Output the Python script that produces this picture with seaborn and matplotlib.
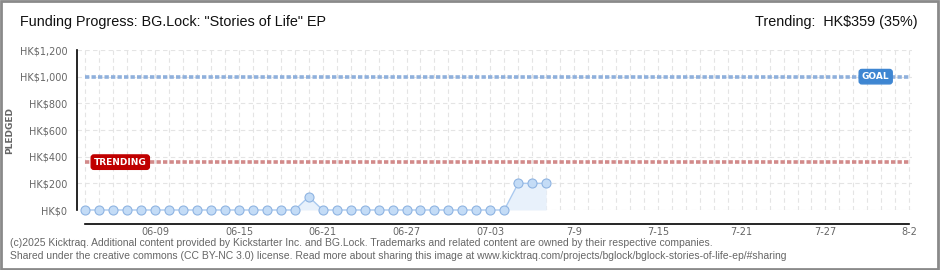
import matplotlib
matplotlib.use("Agg")
import matplotlib.pyplot as plt
import seaborn as sns
import pandas as pd
from matplotlib.patches import Rectangle

# ---------------- data ----------------
start_date = "2025-06-04"
end_date = "2025-08-02"
pledged = [0, 0, 0, 0, 0, 0, 0, 0, 0, 0, 0, 0, 0, 0, 0, 0, 100, 0, 0, 0, 0, 0,
           0, 0, 0, 0, 0, 0, 0, 0, 0, 200, 200, 200]
goal = 1000
trending = 359
trending_pct = 35
x_tick_labels = ["06-09", "06-15", "06-21", "06-27", "07-03",
                 "7-9", "7-15", "7-21", "7-27", "8-2"]
x_tick_dates = ["2025-06-09", "2025-06-15", "2025-06-21", "2025-06-27", "2025-07-03",
                "2025-07-09", "2025-07-15", "2025-07-21", "2025-07-27", "2025-08-02"]
y_ticks = [0, 200, 400, 600, 800, 1000, 1200]
y_tick_labels = ["HK$0", "HK$200", "HK$400", "HK$600", "HK$800", "HK$1,000", "HK$1,200"]
title = 'Funding Progress: BG.Lock: "Stories of Life" EP'
footer1 = ("(c)2025 Kicktraq. Additional content provided by Kickstarter Inc. and BG.Lock. "
           "Trademarks and related content are owned by their respective companies.")
footer2 = ("Shared under the creative commons (CC BY-NC 3.0) license. Read more about sharing "
           "this image at www.kicktraq.com/projects/bglock/bglock-stories-of-life-ep/#sharing")

t0 = pd.Timestamp(start_date)
dates = pd.date_range(start_date, periods=len(pledged), freq="D")
df = pd.DataFrame({"day": (dates - t0).days, "pledged": pledged})
n_days = (pd.Timestamp(end_date) - t0).days
tick_pos = [(pd.Timestamp(d) - t0).days for d in x_tick_dates]

# ---------------- style ----------------
sns.set_style("white")
plt.rcParams["font.family"] = ["DejaVu Sans"]
narrow = ["Liberation Sans", "DejaVu Sans"]
gray = "#666666"

fig = plt.figure(figsize=(9.4, 2.7), dpi=100)
ax = fig.add_axes([77 / 940, 60 / 270, (912 - 77) / 940, 160 / 270])

# grid
for d in range(0, n_days + 1):
    ax.axvline(d, color="#e4e4e4", lw=0.8, ls=(0, (4, 3)), zorder=0)
for v in y_ticks:
    ax.axhline(v, color="#e4e4e4", lw=0.8, ls=(0, (4, 3)), zorder=0)

# goal / trending lines
ax.plot([0, n_days], [goal, goal], color="#8fb0dc", lw=2.6, ls=(0, (1.2, 0.6)), zorder=2)
ax.plot([0, n_days], [trending, trending], color="#d28a8a", lw=2.6, ls=(0, (1.2, 0.6)), zorder=2)

# area + line
ax.fill_between(df["day"], df["pledged"], 0, color="#e8f1fb", zorder=1, lw=0)
sns.lineplot(data=df, x="day", y="pledged", ax=ax, color="#a9c9ef", lw=1.0,
             marker="o", markersize=6.5, markerfacecolor="#c4dcf6",
             markeredgecolor="#8fb4e2", markeredgewidth=0.8, zorder=3, clip_on=False)

# label boxes
ax.text(n_days - 2.4, goal, "GOAL", color="white", fontsize=6.5, fontweight="bold",
        ha="center", va="center", zorder=5,
        bbox=dict(boxstyle="round,pad=0.3,rounding_size=0.3", fc="#3e86d2", ec="#3e86d2"))
ax.text(2.5, trending, "TRENDING", color="white", fontsize=6.5, fontweight="bold",
        ha="center", va="center", zorder=5,
        bbox=dict(boxstyle="round,pad=0.3,rounding_size=0.3", fc="#c00000", ec="#c00000"))

# axes
ax.set_xlim(-0.6, n_days + 0.2)
ax.set_ylim(0, 1200)
for s in ["top", "right"]:
    ax.spines[s].set_visible(False)
ax.spines["left"].set_color("black")
ax.spines["bottom"].set_color("black")
ax.spines["bottom"].set_position(("outward", 10))
ax.spines["bottom"].set_bounds(0, n_days)
ax.spines["left"].set_linewidth(1.2)
ax.spines["bottom"].set_linewidth(1.2)

ax.set_xticks(range(0, n_days + 1), minor=True)
ax.set_xticks(tick_pos)
ax.set_xticklabels(x_tick_labels)
ax.tick_params(axis="x", which="both", direction="inout", length=5, width=1, color="black",
               labelsize=7, labelcolor=gray, pad=0)
ax.set_yticks(y_ticks)
ax.set_yticklabels(y_tick_labels)
ax.set_yticks([100, 300, 500, 700, 900, 1100], minor=True)
ax.tick_params(axis="y", which="major", direction="out", length=4, width=1, color="black",
               labelsize=7, labelcolor=gray, pad=3)
ax.tick_params(axis="y", which="minor", direction="out", length=3, width=1, color="#e00000")
ax.set_xlabel("")
ax.set_ylabel("PLEDGED", fontsize=6.5, color=gray, fontweight="bold")
ax.yaxis.set_label_coords(-(77 - 14) / 835, 0.5)

# titles / footer
fig.text(20 / 940, 1 - 22 / 270, title, fontsize=10.4, family=narrow, ha="left", va="center",
         color="#111111")
fig.text(918 / 940, 1 - 22 / 270, f"Trending:  HK${trending} ({trending_pct}%)", fontsize=10.4,
         family=narrow, ha="right", va="center", color="#111111")
fig.text(10 / 940, 1 - 243 / 270, footer1, fontsize=7.5, family=narrow, color=gray,
         ha="left", va="center")
fig.text(10 / 940, 1 - 256 / 270, footer2, fontsize=7.5, family=narrow, color=gray,
         ha="left", va="center")

fig.patches.append(Rectangle((0.001, 0.002), 0.997, 0.995, transform=fig.transFigure,
                             fill=False, ec="#8a8a8a", lw=2))

fig.savefig("out.png", dpi=100)
